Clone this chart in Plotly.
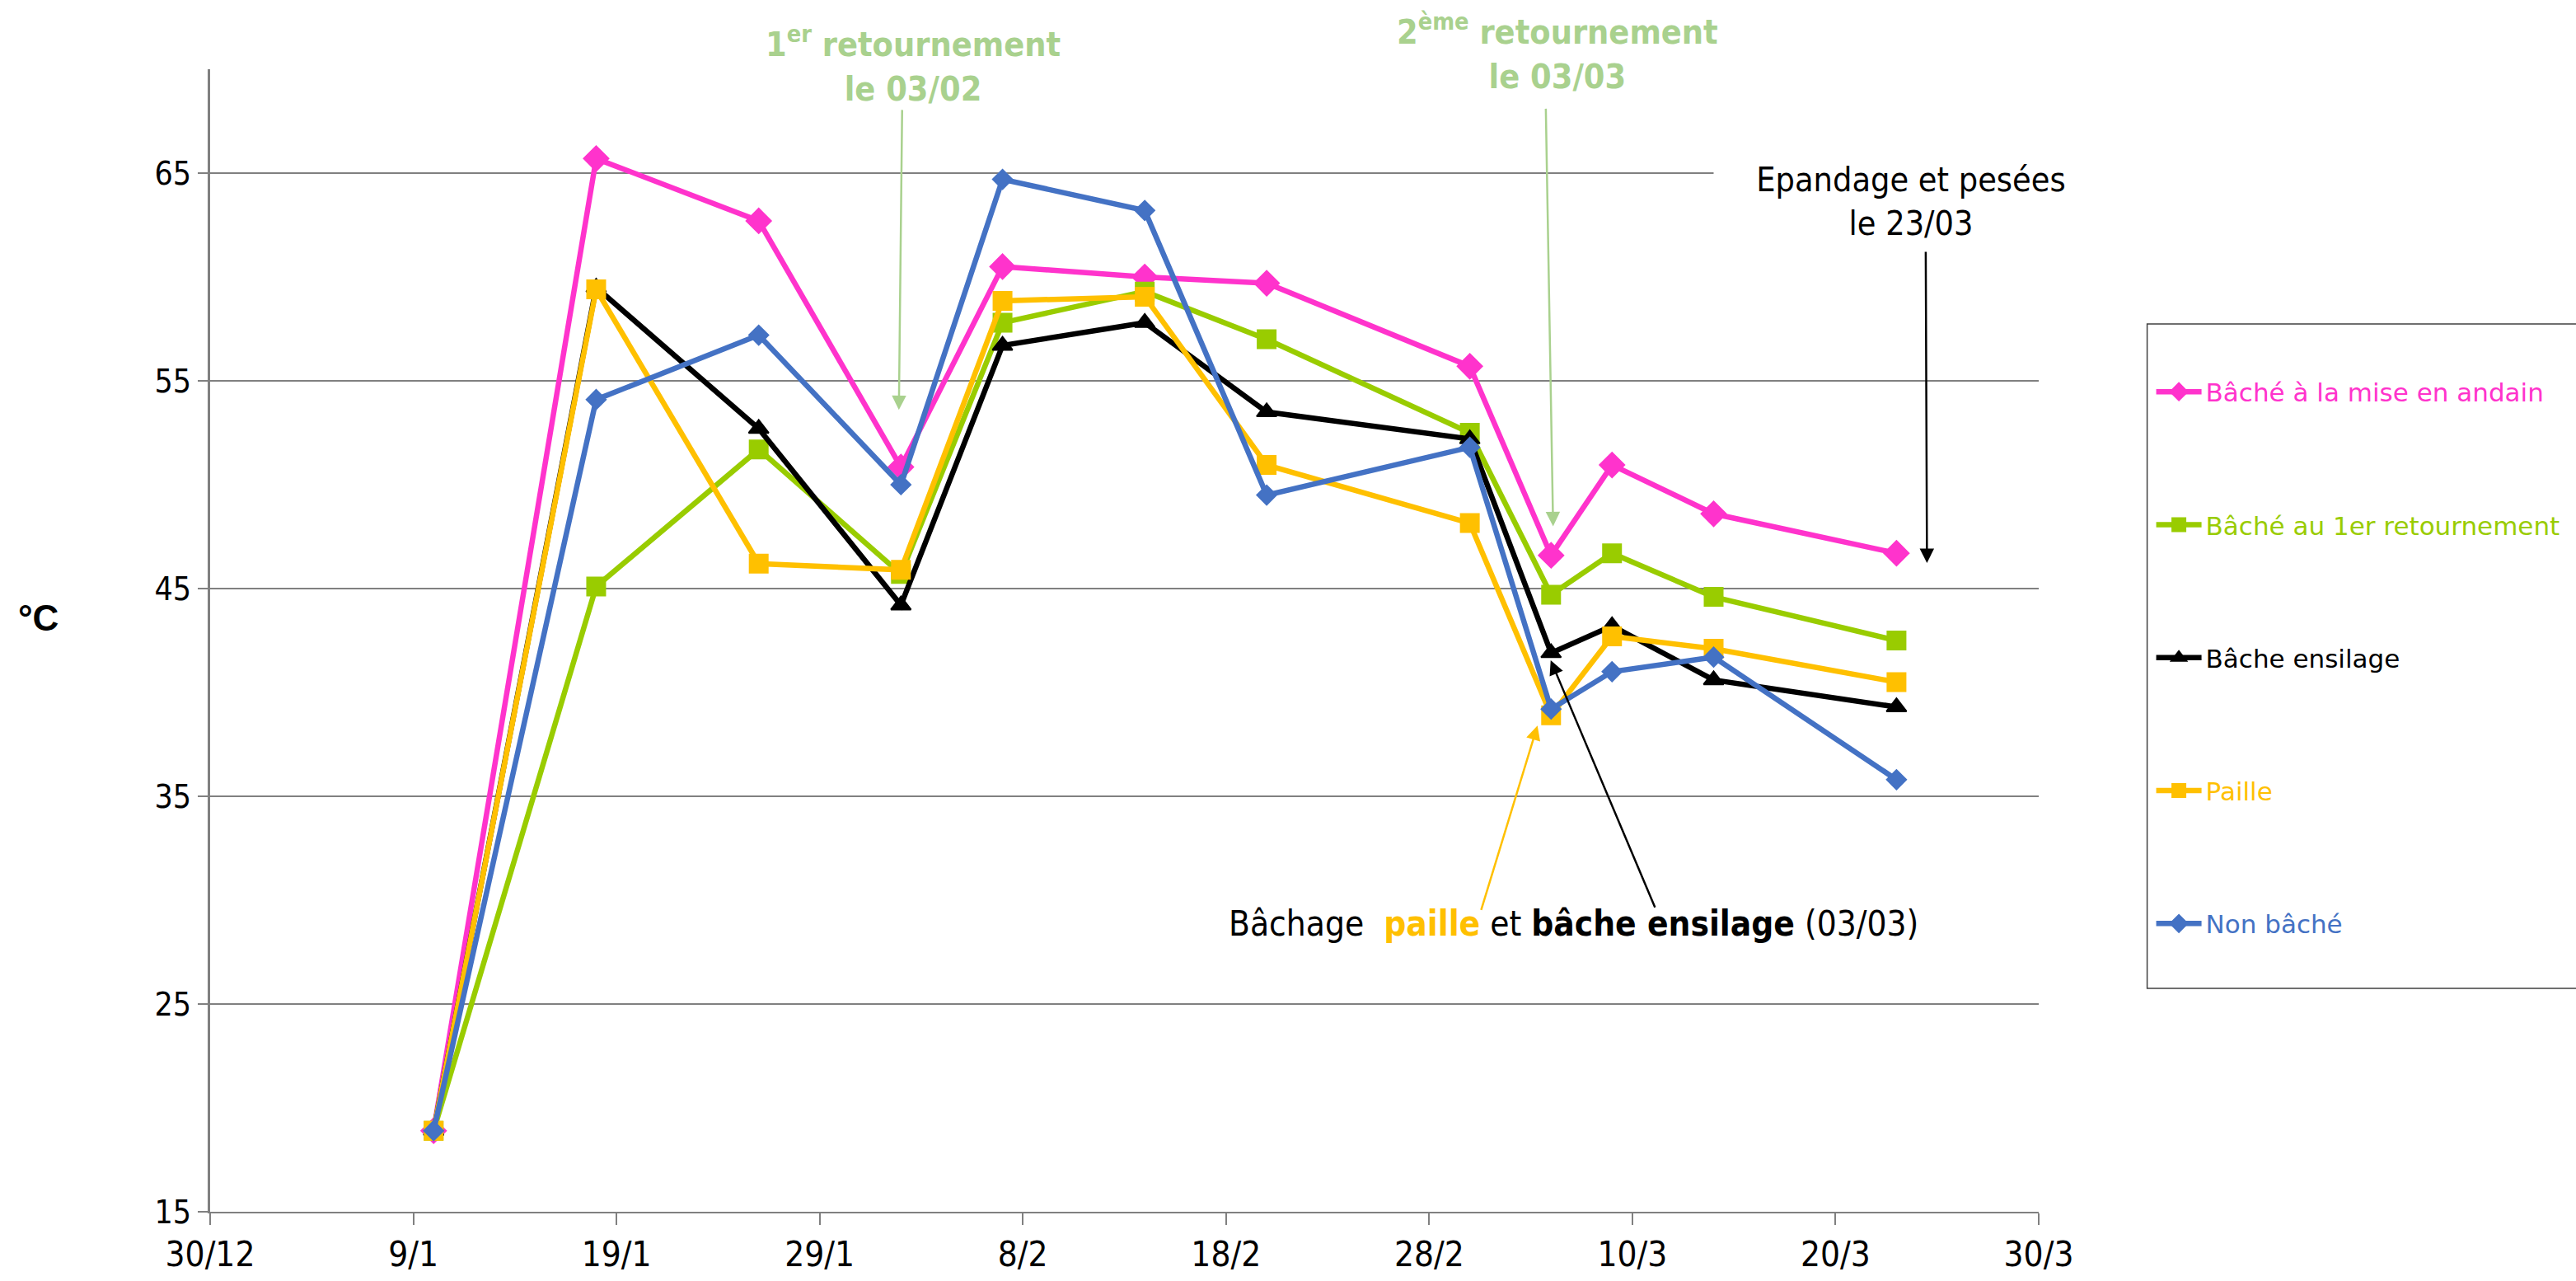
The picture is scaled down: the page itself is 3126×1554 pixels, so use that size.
import plotly.graph_objects as go
import pandas as pd

dates = ["2011-01-10", "2011-01-18", "2011-01-26", "2011-02-02", "2011-02-07", "2011-02-14",
         "2011-02-20", "2011-03-02", "2011-03-06", "2011-03-09", "2011-03-14", "2011-03-23"]

bache_andain = [18.9, 65.7, 62.7, 50.85, 60.5, 60.0, 59.7, 55.7, 46.6, 50.95, 48.6, 46.7]
bache_1er = [18.9, 45.1, 51.7, 45.7, 57.8, 59.3, 57.0, 52.5, 44.7, 46.7, 44.6, 42.5]
bache_ensilage = [18.9, 59.5, 52.7, 44.2, 56.7, 57.8, 53.5, 52.2, 41.9, 43.2, 40.6, 39.3]
paille = [18.9, 59.4, 46.2, 45.9, 58.85, 59.05, 50.95, 48.15, 38.9, 42.7, 42.1, 40.5]
non_bache = [18.9, 54.1, 57.2, 50.0, 64.7, 63.2, 49.5, 51.8, 39.2, 41.0, 41.7, 35.8]

series_names = ["Bâché à la mise en andain", "Bâché au 1er retournement", "Bâche ensilage",
                "Paille", "Non bâché"]
series_values = [bache_andain, bache_1er, bache_ensilage, paille, non_bache]
colors = ["#FF33CC", "#99CC00", "#000000", "#FFC000", "#4472C4"]
symbols = ["diamond", "square", "triangle-up", "square", "diamond"]
sizes = [23, 22, 21, 22, 18]

y_ticks = [15, 25, 35, 45, 55, 65]
x_start, x_end = "2010-12-30", "2011-03-30"

FONT = "DejaVu Sans, Verdana, sans-serif"
FONT_C = "DejaVu Sans Condensed, DejaVu Sans, sans-serif"

fig = go.Figure()
for i, (name, vals) in enumerate(zip(series_names, series_values)):
    fig.add_trace(go.Scatter(
        x=dates, y=vals, mode="lines+markers",
        name=f"<span style='color:{colors[i]}'>{name}</span>",
        legendgroup=f"g{i}",
        line=dict(color=colors[i], width=6.5),
        marker=dict(symbol=symbols[i], size=sizes[i], color=colors[i],
                    line=dict(color=colors[i], width=2)),
    ))

base = pd.Timestamp(x_start)
def d(days):
    return (base + pd.Timedelta(days=days)).strftime("%Y-%m-%d %H:%M")

GREEN_TXT = "#A9D18E"
ann = []
ann.append(dict(x=d(34.6), y=1.004, xref="x", yref="paper", showarrow=False,
                xanchor="center", yanchor="middle",
                text="<b>1<sup>er</sup> retournement<br>le 03/02</b>",
                font=dict(family=FONT_C, size=41, color=GREEN_TXT), align="center"))
ann.append(dict(x=d(66.3), y=1.015, xref="x", yref="paper", showarrow=False,
                xanchor="center", yanchor="middle",
                text="<b>2<sup>ème</sup> retournement<br>le 03/03</b>",
                font=dict(family=FONT_C, size=41, color=GREEN_TXT), align="center"))
ann.append(dict(x=d(83.7), y=63.64, xref="x", yref="y", showarrow=False,
                text="Epandage et pesées<br>le 23/03", width=476, bgcolor="white",
                font=dict(family=FONT_C, size=41, color="black"), align="center"))
ann.append(dict(x=d(67.12), y=28.88, xref="x", yref="y", showarrow=False,
                text="Bâchage  <b><span style='color:#FFC000'>paille</span></b> et <b>bâche ensilage</b> (03/03)",
                font=dict(family=FONT_C, size=42, color="black"), align="center"))
ann.append(dict(x=-0.094, y=43.6, xref="paper", yref="y", showarrow=False,
                xanchor="center", yanchor="middle",
                text="<b>°C</b>", font=dict(family="Liberation Sans, Arial, sans-serif",
                                            size=44, color="black")))

# arrows: (tip_days, tip_val, tail_days, tail_val, color)
arrows = [
    (33.9, 53.6, 34.06, 68.1, GREEN_TXT),
    (66.1, 48.0, 65.74, 68.16, GREEN_TXT),
    (84.5, 46.23, 84.44, 61.27, "black"),
    (65.33, 38.4, 62.54, 29.47, "#FFC000"),
    (65.98, 41.55, 71.14, 29.59, "black"),
]
for td, tv, sd, sv, c in arrows:
    ann.append(dict(x=d(td), y=tv, ax=d(sd), ay=sv, xref="x", yref="y", axref="x", ayref="y",
                    text="", showarrow=True, arrowhead=2, arrowsize=1.4, arrowwidth=2.5,
                    arrowcolor=c))

fig.update_layout(
    width=3126, height=1554,
    margin=dict(l=255, r=652, t=84, b=84, autoexpand=False),
    paper_bgcolor="white", plot_bgcolor="white",
    font=dict(family=FONT, size=34, color="black"),
    showlegend=True,
    legend=dict(x=1.062, xanchor="left", y=0.737, yanchor="top",
                font=dict(family=FONT, size=31), tracegroupgap=118,
                itemwidth=55, bgcolor="rgba(0,0,0,0)", borderwidth=0),
    annotations=ann,
    shapes=[dict(type="rect", xref="paper", yref="paper", x0=1.0593, x1=1.4,
                 y0=0.1955, y1=0.777, line=dict(color="#404040", width=1.5),
                 fillcolor="rgba(0,0,0,0)")],
    xaxis=dict(type="date", range=[x_start, x_end], tick0=x_start, dtick=10 * 86400000,
               tickformat="%-d/%-m", showgrid=False, zeroline=False,
               showline=True, linecolor="#808080", linewidth=2,
               ticks="outside", ticklen=14, tickcolor="#808080", tickwidth=2,
               ticklabelstandoff=0,
               tickfont=dict(family=FONT_C, size=42)),
    yaxis=dict(range=[15, 70], tickvals=y_ticks, showgrid=True, gridcolor="#808080",
               gridwidth=1.5, zeroline=False, showline=True, linecolor="#808080",
               linewidth=3, ticks="outside", ticklen=12, tickcolor="#808080",
               tickwidth=1.5, tickfont=dict(family=FONT_C, size=39)),
)

fig.write_html("out.html", config={"displayModeBar": False},
               post_script="document.body.style.margin='0';document.body.style.overflow='hidden';")
